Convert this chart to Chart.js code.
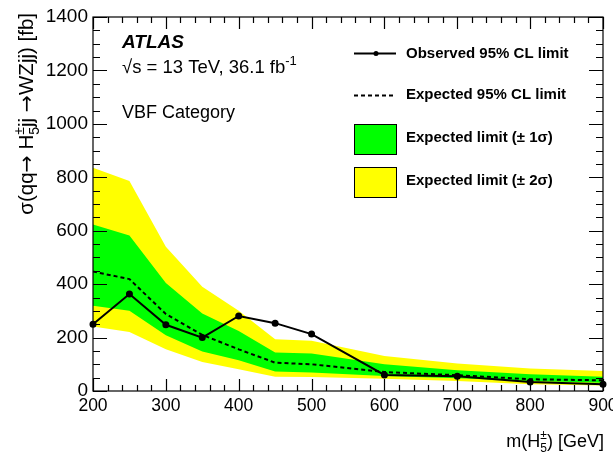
<!DOCTYPE html>
<html>
<head>
<meta charset="utf-8">
<script src="https://cdn.jsdelivr.net/npm/chart.js@4/dist/chart.umd.min.js"></script>
<style>
  html, body { margin: 0; padding: 0; background: #ffffff; }
  #wrap { width: 613px; height: 457px; position: relative; }
</style>
</head>
<body>
<div id="wrap"><canvas id="c" width="613" height="457"></canvas></div>
<script>
// Charged Higgs (H5±) VBF limits, cross section in fb vs. mass in GeV
const massPoints = [200, 250, 300, 350, 400, 450, 500, 600, 700, 800, 900];
const observedLimit = [250, 363, 248, 200, 281, 254, 213, 60, 55, 34, 25];
const expectedLimit = [447, 419, 288, 210, 156, 106, 100, 71, 59, 44, 40];
const oneSigmaUp   = [623, 582, 404, 290, 225, 144, 140, 100, 78, 63, 53];
const oneSigmaDown = [319, 300, 209, 148, 115, 73, 69, 56, 48, 37, 31];
const twoSigmaUp   = [836, 786, 540, 390, 300, 194, 188, 131, 103, 84, 75];
const twoSigmaDown = [241, 221, 156, 109, 81, 53, 52, 46, 37, 25, 21];

const xTickValues = [200, 300, 400, 500, 600, 700, 800, 900];
const yTickValues = [0, 200, 400, 600, 800, 1000, 1200, 1400];

const FONT = '"Liberation Sans", Arial, Helvetica, sans-serif';
const SYMBOL_FONT = '"DejaVu Sans", sans-serif';
const YELLOW = '#ffff00';
const GREEN = '#00ff00';

function pts(values) {
  return massPoints.map((m, i) => ({ x: m, y: values[i] }));
}

function partFont(p, size, weight) {
  return `${weight || ''} ${size}px ${p.sym ? SYMBOL_FONT : FONT}`;
}

// Text with a stacked superscript/subscript group
function drawRich(ctx, parts, x, y, size, weight) {
  let cx = x;
  for (const p of parts) {
    if (p.t !== undefined) {
      ctx.font = partFont(p, size, weight);
      ctx.fillText(p.t, cx, y);
      cx += ctx.measureText(p.t).width;
    } else {
      const s = Math.round(size * 0.68);
      ctx.font = `${weight || ''} ${s}px ${FONT}`;
      let w = 0;
      if (p.sup) {
        ctx.fillText(p.sup, cx, y - size * 0.42);
        w = Math.max(w, ctx.measureText(p.sup).width);
      }
      if (p.sub) {
        ctx.fillText(p.sub, cx, y + size * 0.28);
        w = Math.max(w, ctx.measureText(p.sub).width);
      }
      cx += w;
    }
  }
  return cx - x;
}

function measureRich(ctx, parts, size, weight) {
  let w = 0;
  for (const p of parts) {
    if (p.t !== undefined) {
      ctx.font = partFont(p, size, weight);
      w += ctx.measureText(p.t).width;
    } else {
      ctx.font = `${weight || ''} ${Math.round(size * 0.68)}px ${FONT}`;
      w += Math.max(p.sup ? ctx.measureText(p.sup).width : 0, p.sub ? ctx.measureText(p.sub).width : 0);
    }
  }
  return w;
}

// Frame with inward ticks on all four sides, axis titles, labels and legend
const decorations = {
  id: 'decorations',
  afterDraw(chart) {
    const ctx = chart.ctx;
    const { left, right, top, bottom } = chart.chartArea;
    const xs = chart.scales.x, ys = chart.scales.y;
    ctx.save();
    ctx.strokeStyle = '#000';
    ctx.lineWidth = 1.2;
    ctx.strokeRect(left, top, right - left, bottom - top);

    ctx.beginPath();
    for (let v = 200; v <= 900; v += 20) {
      const px = Math.round(xs.getPixelForValue(v)) + 0.5;
      const len = v % 100 === 0 ? 12 : 6;
      ctx.moveTo(px, bottom); ctx.lineTo(px, bottom - len);
      ctx.moveTo(px, top); ctx.lineTo(px, top + len);
    }
    for (let v = 0; v <= 1400; v += 50) {
      const py = Math.round(ys.getPixelForValue(v)) + 0.5;
      const len = v % 200 === 0 ? 14 : 7;
      ctx.moveTo(left, py); ctx.lineTo(left + len, py);
      ctx.moveTo(right, py); ctx.lineTo(right - len, py);
    }
    ctx.stroke();

    ctx.fillStyle = '#000';
    ctx.textBaseline = 'alphabetic';
    ctx.textAlign = 'left';

    // Experiment label
    ctx.font = `italic bold 19px ${FONT}`;
    ctx.fillText('ATLAS', 122, 48);
    drawRich(ctx, [{ t: '√s = 13 TeV, 36.1 fb' }, { sup: '-1' }], 122, 73, 18.5);
    ctx.font = `18px ${FONT}`;
    ctx.fillText('VBF Category', 122, 118);

    // X axis title, right aligned to the frame
    const xParts = [{ t: 'm(H' }, { sup: '±', sub: '5' }, { t: ') [GeV]' }];
    const xw = measureRich(ctx, xParts, 18);
    drawRich(ctx, xParts, right - xw + 1, 447, 18);

    // Y axis title, rotated, ending near the top of the frame
    const yParts = [
      { t: 'σ(qq' }, { t: '→', sym: true }, { t: ' H' }, { sup: '±', sub: '5' },
      { t: 'jj ' }, { t: '→', sym: true }, { t: 'WZjj) [fb]' }
    ];
    const yw = measureRich(ctx, yParts, 20.5);
    ctx.save();
    ctx.translate(33, 13 + yw);
    ctx.rotate(-Math.PI / 2);
    drawRich(ctx, yParts, 0, 0, 20.5);
    ctx.restore();

    // Legend
    const ds = chart.data.datasets;
    const lx0 = 354, lx1 = 396, tx = 406;
    ctx.textBaseline = 'middle';
    ctx.font = `bold 15px ${FONT}`;

    ctx.strokeStyle = ds[0].borderColor;
    ctx.lineWidth = 2;
    ctx.beginPath(); ctx.moveTo(lx0, 53.5); ctx.lineTo(lx1, 53.5); ctx.stroke();
    ctx.beginPath(); ctx.arc(376, 53.5, 2.5, 0, Math.PI * 2); ctx.fill();
    ctx.fillText(ds[0].label, tx, 54);

    ctx.setLineDash(ds[1].borderDash);
    ctx.beginPath(); ctx.moveTo(lx0, 95.5); ctx.lineTo(lx1, 95.5); ctx.stroke();
    ctx.setLineDash([]);
    ctx.fillText(ds[1].label, tx, 95);

    ctx.lineWidth = 1;
    ctx.fillStyle = ds[2].backgroundColor;
    ctx.fillRect(lx0, 124, lx1 - lx0, 30);
    ctx.strokeRect(lx0 + 0.5, 124.5, lx1 - lx0, 30);
    ctx.fillStyle = '#000';
    ctx.fillText(ds[2].label, tx, 138);

    ctx.fillStyle = ds[4].backgroundColor;
    ctx.fillRect(lx0, 167, lx1 - lx0, 30);
    ctx.strokeRect(lx0 + 0.5, 167.5, lx1 - lx0, 30);
    ctx.fillStyle = '#000';
    ctx.fillText(ds[4].label, tx, 181);

    ctx.restore();
  }
};

const bandStyle = { pointRadius: 0, borderWidth: 0, borderColor: 'rgba(0,0,0,0)', tension: 0 };

new Chart(document.getElementById('c'), {
  type: 'line',
  data: {
    datasets: [
      {
        label: 'Observed 95% CL limit',
        data: pts(observedLimit),
        borderColor: '#000', backgroundColor: '#000',
        borderWidth: 2, pointRadius: 2.5, pointBackgroundColor: '#000',
        fill: false, clip: false, tension: 0
      },
      {
        label: 'Expected 95% CL limit',
        data: pts(expectedLimit),
        borderColor: '#000', borderWidth: 2, borderDash: [4, 3],
        pointRadius: 0, fill: false, tension: 0
      },
      Object.assign({ label: 'Expected limit (± 1σ)', data: pts(oneSigmaUp), backgroundColor: GREEN, fill: 3 }, bandStyle),
      Object.assign({ label: '1σ lower', data: pts(oneSigmaDown), backgroundColor: GREEN, fill: false }, bandStyle),
      Object.assign({ label: 'Expected limit (± 2σ)', data: pts(twoSigmaUp), backgroundColor: YELLOW, fill: 5 }, bandStyle),
      Object.assign({ label: '2σ lower', data: pts(twoSigmaDown), backgroundColor: YELLOW, fill: false }, bandStyle)
    ]
  },
  options: {
    responsive: false,
    animation: false,
    devicePixelRatio: 1,
    layout: { padding: { top: 17, right: 10, left: 0, bottom: 0 } },
    plugins: { legend: { display: false }, tooltip: { enabled: false } },
    scales: {
      x: {
        type: 'linear', min: 200, max: 900,
        grid: { display: false, drawTicks: false }, border: { display: false },
        afterBuildTicks: s => { s.ticks = xTickValues.map(v => ({ value: v })); },
        afterFit: s => { s.height = 66; s.paddingLeft = 0; s.paddingRight = 0; },
        ticks: { color: '#000', font: { family: FONT, size: 17.5 }, padding: 5, maxRotation: 0, autoSkip: false,
                 callback: v => String(v) }
      },
      y: {
        type: 'linear', min: 0, max: 1400,
        grid: { display: false, drawTicks: false }, border: { display: false },
        afterBuildTicks: s => { s.ticks = yTickValues.map(v => ({ value: v })); },
        afterFit: s => { s.width = 93; s.paddingTop = 0; s.paddingBottom = 0; },
        ticks: { color: '#000', font: { family: FONT, size: 19 }, padding: 5, autoSkip: false,
                 callback: v => String(v) }
      }
    }
  },
  plugins: [decorations]
});
</script>
</body>
</html>
